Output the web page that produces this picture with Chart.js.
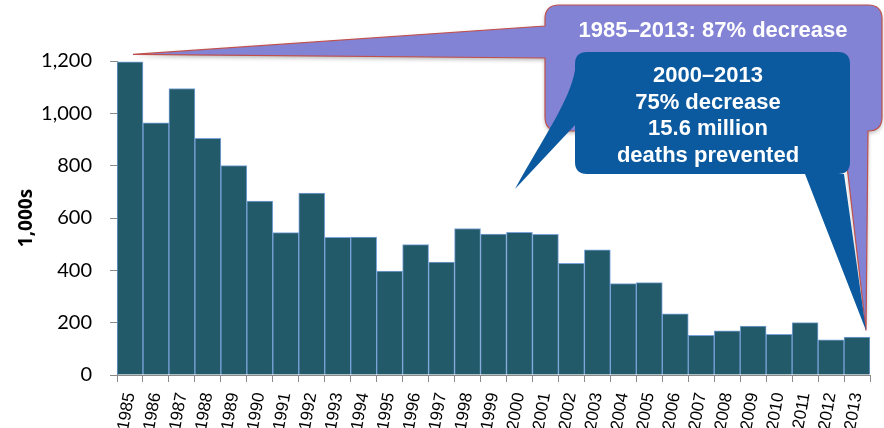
<!DOCTYPE html>
<html>
<head>
<meta charset="utf-8">
<script src="https://cdn.jsdelivr.net/npm/chart.js@4"></script>
<style>
  html, body { margin: 0; padding: 0; background: #fff; }
  #wrap { width: 884px; height: 428px; }
</style>
</head>
<body>
<div id="wrap"><canvas id="myChart"></canvas></div>
<script>
// years on the x axis
let anios = ['1985','1986','1987','1988','1989','1990','1991','1992','1993','1994',
             '1995','1996','1997','1998','1999','2000','2001','2002','2003','2004',
             '2005','2006','2007','2008','2009','2010','2011','2012','2013'];

// deaths, in thousands
let muertes = [1197, 964, 1095, 904, 800, 665, 544, 695, 526, 527,
               397, 498, 432, 560, 539, 545, 538, 427, 478, 349,
               353, 234, 152, 169, 187, 155, 200, 134, 145];

let ejeY = { min: 0, max: 1200, paso: 200, titulo: '1,000s' };

let textoMorado = '1985\u20132013: 87% decrease';
let textoAzul = ['2000\u20132013', '75% decrease', '15.6 million', 'deaths prevented'];

const globos = {
  id: 'globos',
  afterDatasetsDraw(chart) {
    const ctx = chart.ctx;
    const xs = chart.scales.x, ys = chart.scales.y;
    // where the tails point: first and last bars
    const punta1 = { x: xs.getPixelForValue(0) + 3, y: ys.getPixelForValue(1225) };
    const punta2 = { x: xs.getPixelForValue(28) + 9, y: ys.getPixelForValue(170) };

    // purple callout
    let L = 545, T = 5, R = 882, B = 131, r = 14;
    ctx.save();
    ctx.shadowColor = 'rgba(0,0,0,0.3)';
    ctx.shadowBlur = 4;
    ctx.shadowOffsetY = 2;
    ctx.beginPath();
    ctx.moveTo(punta1.x, punta1.y);
    ctx.lineTo(L, 26);
    ctx.lineTo(L, T + r);
    ctx.quadraticCurveTo(L, T, L + r, T);
    ctx.lineTo(R - r, T);
    ctx.quadraticCurveTo(R, T, R, T + r);
    ctx.lineTo(R, B - r);
    ctx.quadraticCurveTo(R, B, R - r, B);
    ctx.lineTo(868, B);
    ctx.lineTo(punta2.x, punta2.y);
    ctx.lineTo(843, B);
    ctx.lineTo(L + r, B);
    ctx.quadraticCurveTo(L, B, L, B - r);
    ctx.lineTo(L, 58);
    ctx.closePath();
    ctx.fillStyle = '#8383d5';
    ctx.fill();
    ctx.shadowColor = 'transparent';
    ctx.strokeStyle = '#c0504d';
    ctx.lineWidth = 1.2;
    ctx.stroke();
    ctx.restore();

    ctx.fillStyle = '#ffffff';
    ctx.font = 'bold 22px "Liberation Sans", Arial, sans-serif';
    ctx.textAlign = 'center';
    ctx.textBaseline = 'middle';
    ctx.fillText(textoMorado, 713, 31);

    // dark blue callout
    L = 575; T = 52; R = 850; B = 174; r = 12;
    ctx.save();
    ctx.beginPath();
    ctx.moveTo(L + r, T);
    ctx.lineTo(R - r, T);
    ctx.quadraticCurveTo(R, T, R, T + r);
    ctx.lineTo(R, B - r);
    ctx.quadraticCurveTo(R, B, R - r, B);
    ctx.lineTo(844, B);
    ctx.lineTo(punta2.x, punta2.y);
    ctx.lineTo(805, B);
    ctx.lineTo(L + r, B);
    ctx.quadraticCurveTo(L, B, L, B - r);
    ctx.lineTo(L, 125);
    ctx.lineTo(515, 189);
    ctx.bezierCurveTo(545, 135, 570, 100, L, 70);
    ctx.lineTo(L, T + r);
    ctx.quadraticCurveTo(L, T, L + r, T);
    ctx.closePath();
    ctx.fillStyle = '#0b5a9f';
    ctx.fill();
    ctx.restore();

    ctx.fillStyle = '#ffffff';
    ctx.font = 'bold 22px "Liberation Sans", Arial, sans-serif';
    textoAzul.forEach((t, i) => {
      ctx.fillText(t, 708, 76 + i * 26.7);
    });
  }
};

const ctx = document.getElementById('myChart');

new Chart(ctx, {
  type: 'bar',
  data: {
    labels: anios,
    datasets: [{
      label: 'Deaths',
      data: muertes,
      backgroundColor: '#235a69',
      borderColor: '#7aa3d9',
      borderWidth: 1,
      barPercentage: 1,
      categoryPercentage: 1
    }]
  },
  options: {
    responsive: true,
    maintainAspectRatio: false,
    animation: false,
    layout: { padding: { top: 61, right: 14, left: 0, bottom: 0 } },
    plugins: {
      legend: { display: false },
      tooltip: { enabled: false }
    },
    scales: {
      x: {
        grid: { drawOnChartArea: false, color: '#8a8a8a', tickLength: 7, offset: true },
        border: { color: '#8a8a8a', width: 1 },
        ticks: {
          color: '#000',
          font: { family: 'Liberation Sans', size: 17 },
          minRotation: 80,
          maxRotation: 80,
          padding: 9,
          autoSkip: false
        },
        afterFit(scale) {
          scale.height = 53;
          scale.paddingRight = 0;
          scale.paddingLeft = 0;
        }
      },
      y: {
        min: ejeY.min,
        max: ejeY.max,
        grid: { drawOnChartArea: false, color: '#8a8a8a', tickLength: 7 },
        border: { color: '#8a8a8a', width: 1 },
        ticks: {
          stepSize: ejeY.paso,
          color: '#000',
          font: { family: 'Lato', size: 20 },
          padding: 18
        },
        title: {
          display: true,
          text: ejeY.titulo,
          color: '#000',
          font: { family: 'Open Sans', size: 19, weight: 'bold' },
          padding: { top: 15, bottom: 0 }
        },
        afterFit(scale) { scale.width = 117; }
      }
    }
  },
  plugins: [globos]
});
</script>
</body>
</html>
